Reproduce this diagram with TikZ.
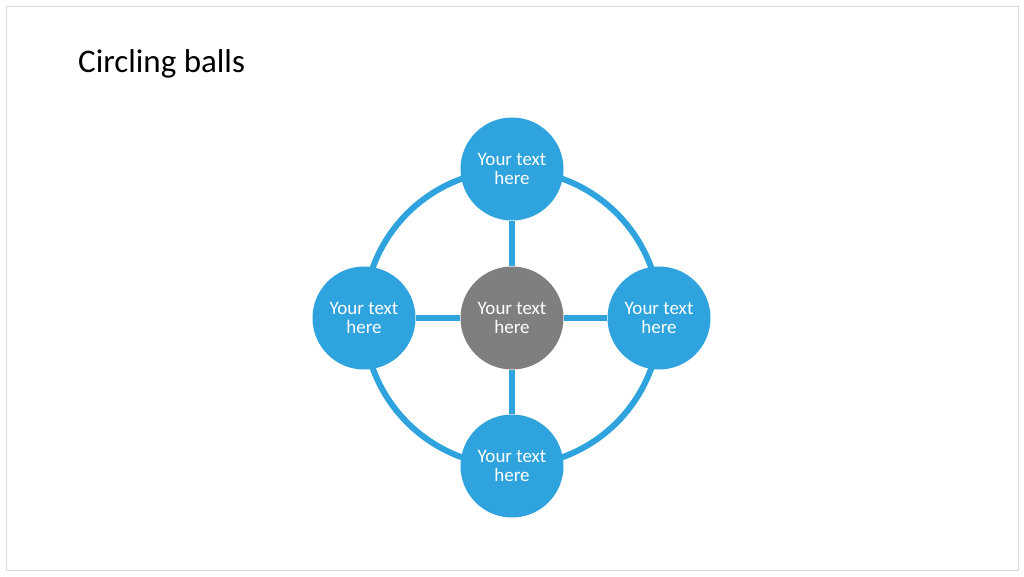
\documentclass[tikz,border=0pt]{standalone}
\usepackage{fontspec}
\setmainfont{Carlito}
\usepackage{tikz}
\usetikzlibrary{positioning}
\definecolor{ballblue}{HTML}{2EA3DE}
\definecolor{ballgrey}{HTML}{7F7F7F}
\definecolor{frameline}{HTML}{D9D9D9}

\begin{document}
\begin{tikzpicture}[x=1pt,y=-1pt,
          ball/.style={circle, fill=ballblue, minimum size=103pt, inner sep=0pt, align=center, text=white, font=\fontsize{19}{19}\selectfont},
          hub/.style={ball, fill=ballgrey},
          spoke/.style={line width=6pt, color=ballblue}
        ]
          \useasboundingbox (0,0) rectangle (1024,576);
          \draw[frameline, line width=1pt] (6,6) rectangle (1018,570);
          \node[anchor=base west, inner sep=0pt, font=\fontsize{33}{38}\selectfont] (title) at (78,72) {Circling balls};
          \coordinate (mid) at (512,318);
          \draw[spoke] (mid) circle[radius=148];
          \node[hub] (center) at (mid) {Your text\\here};
          \node[ball] (top) at (512,169) {Your text\\here};
          \node[ball] (right) at (659,318) {Your text\\here};
          \node[ball] (bottom) at (512,466) {Your text\\here};
          \node[ball] (left) at (364,318) {Your text\\here};
          \draw[spoke] (center) -- (top);
          \draw[spoke] (center) -- (right);
          \draw[spoke] (center) -- (bottom);
          \draw[spoke] (center) -- (left);
        \end{tikzpicture}
\end{document}
